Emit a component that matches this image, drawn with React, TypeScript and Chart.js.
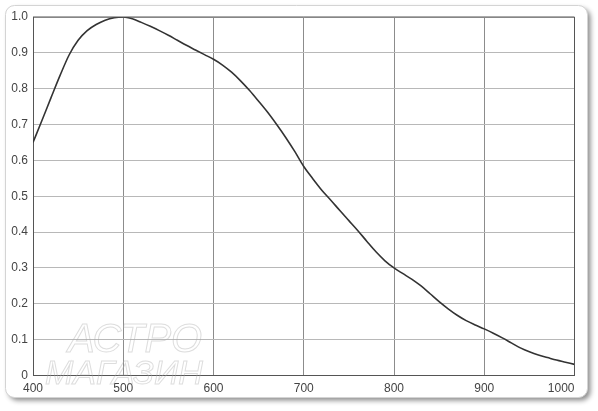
import React, { useEffect, useRef } from "react";
import { Chart, registerables } from "chart.js";

Chart.register(...registerables);

const wavelengths = [
  400, 410, 420, 430, 440, 450, 460, 470, 480, 490, 500, 510, 520, 530, 540, 550, 560, 570, 580, 590,
  600, 610, 620, 630, 640, 650, 660, 670, 680, 690, 700, 710, 720, 730, 740, 750, 760, 770, 780, 790,
  800, 810, 820, 830, 840, 850, 860, 870, 880, 890, 900, 910, 920, 930, 940, 950, 960, 970, 980, 990, 1000,
];
const response = [
  0.65, 0.712, 0.775, 0.837, 0.894, 0.935, 0.962, 0.979, 0.991, 0.998, 1.0, 0.995, 0.985, 0.974, 0.962, 0.949, 0.935, 0.921, 0.908, 0.895,
  0.882, 0.866, 0.846, 0.822, 0.795, 0.765, 0.734, 0.7, 0.664, 0.625, 0.583, 0.549, 0.517, 0.489, 0.46, 0.432, 0.404, 0.374, 0.345, 0.32,
  0.3, 0.284, 0.268, 0.25, 0.228, 0.206, 0.186, 0.168, 0.153, 0.141, 0.13, 0.118, 0.105, 0.091, 0.077, 0.066, 0.057, 0.05, 0.043, 0.037, 0.031,
];
const xTickLabels = ["400", "500", "600", "700", "800", "900", "1000"];
const yTickLabels = ["0", "0.1", "0.2", "0.3", "0.4", "0.5", "0.6", "0.7", "0.8", "0.9", "1.0"];
const watermarkLines = ["АСТРО", "МАГАЗИН"];

const framePlugin = {
  id: "frame",
  beforeDraw(chart: any) {
    const ctx = chart.ctx;
    ctx.save();
    ctx.fillStyle = "#ffffff";
    ctx.fillRect(0, 0, chart.width, chart.height);
    ctx.shadowColor = "rgba(0,0,0,0.45)";
    ctx.shadowBlur = 5;
    ctx.shadowOffsetX = 3;
    ctx.shadowOffsetY = 3;
    ctx.beginPath();
    ctx.roundRect(5.5, 5.5, 582, 392, 9);
    ctx.fillStyle = "#ffffff";
    ctx.fill();
    ctx.shadowColor = "transparent";
    ctx.strokeStyle = "#d4d4d4";
    ctx.lineWidth = 1;
    ctx.stroke();
    ctx.restore();
  },
  beforeDatasetsDraw(chart: any) {
    const ctx = chart.ctx;
    ctx.save();
    ctx.strokeStyle = "rgba(170,170,170,0.4)";
    ctx.lineWidth = 1;
    ctx.font = "italic 40px 'Liberation Sans', Arial, sans-serif";
    ctx.strokeText(watermarkLines[0], 68, 352);
    ctx.font = "italic 34px 'Liberation Sans', Arial, sans-serif";
    ctx.strokeText(watermarkLines[1], 45, 384);
    ctx.restore();
  },
  afterDraw(chart: any) {
    const { ctx, chartArea } = chart;
    ctx.save();
    ctx.strokeStyle = "#555";
    ctx.lineWidth = 1;
    ctx.beginPath();
    ctx.moveTo(chartArea.left, chartArea.top);
    ctx.lineTo(chartArea.right, chartArea.top);
    ctx.lineTo(chartArea.right, chartArea.bottom);
    ctx.stroke();
    ctx.restore();
  },
};

export default function App() {
  const canvasRef = useRef<HTMLCanvasElement | null>(null);

  useEffect(() => {
    if (!canvasRef.current) return;
    const font = { family: "'Liberation Sans', Arial, sans-serif", size: 12 };
    const chart = new Chart(canvasRef.current, {
      type: "line",
      data: {
        datasets: [
          {
            data: wavelengths.map((w, i) => ({ x: w, y: response[i] })),
            borderColor: "#333333",
            borderWidth: 1.6,
            pointRadius: 0,
            cubicInterpolationMode: "monotone",
            fill: false,
          },
        ],
      },
      options: {
        responsive: false,
        animation: false,
        layout: { padding: { top: 17, right: 23.5, bottom: 0, left: 0 } },
        plugins: { legend: { display: false }, tooltip: { enabled: false } },
        scales: {
          x: {
            type: "linear",
            min: 400,
            max: 1000,
            ticks: {
              stepSize: 100,
              color: "#444",
              font,
              padding: 6,
              maxRotation: 0,
              autoSkip: false,
              callback: (_v: any, i: number) =>
                i === xTickLabels.length - 1 ? xTickLabels[i] + "\u2007\u2007\u2007\u2007" : xTickLabels[i],
            },
            grid: { color: "#8c8c8c", drawTicks: false },
            border: { color: "#555" },
            afterFit: (scale: any) => {
              scale.height = 35.5;
              scale.paddingLeft = 0;
              scale.paddingRight = 0;
            },
          },
          y: {
            min: 0,
            max: 1,
            ticks: {
              stepSize: 0.1,
              color: "#444",
              font,
              padding: 5,
              callback: (_v: any, i: number) => yTickLabels[i],
            },
            grid: { color: "#b8b8b8", drawTicks: false },
            border: { color: "#555" },
            afterFit: (scale: any) => {
              scale.width = 33;
            },
          },
        },
      },
      plugins: [framePlugin],
    } as any);
    return () => chart.destroy();
  }, []);

  return (
    <div style={{ position: "absolute", left: 0, top: 0, width: 598, height: 411 }}>
      <canvas ref={canvasRef} width={598} height={411} />
    </div>
  );
}
